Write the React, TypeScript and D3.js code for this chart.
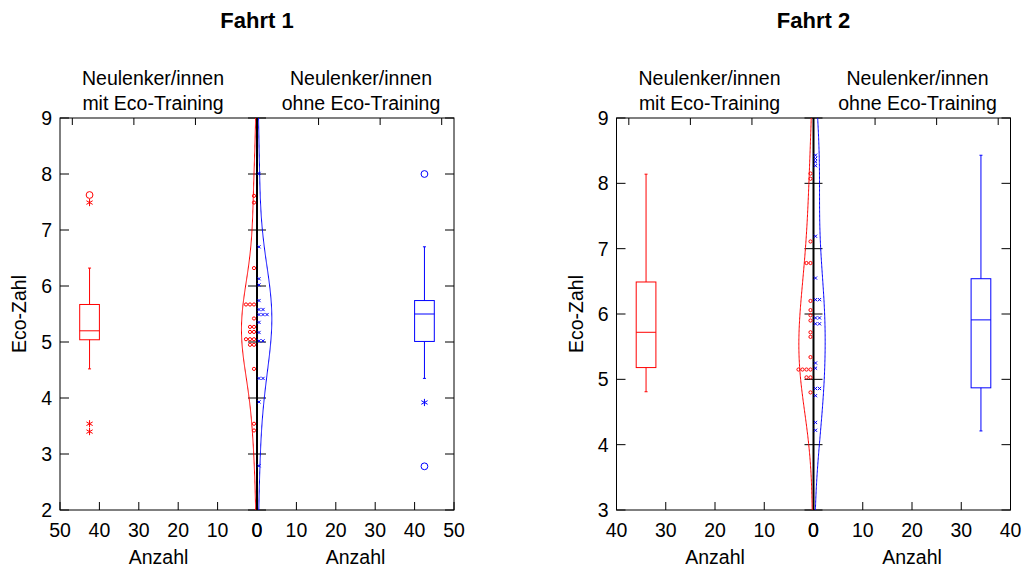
import React from "react";
import * as d3 from "d3";

// chart values
const fahrten = ["Fahrt 1", "Fahrt 2"];
const groupTitle = ["Neulenker/innen", "Neulenker/innen"];
const groupSub = ["mit Eco-Training", "ohne Eco-Training"];
const yDomains = [[2, 9], [3, 9]];
const yTicks = [[2, 3, 4, 5, 6, 7, 8, 9], [3, 4, 5, 6, 7, 8, 9]];
const countMax = [50, 40];
const countTicks = [[0, 10, 20, 30, 40, 50], [0, 10, 20, 30, 40]];
const boxAxisTicks = [0, 1, 2, 3];

// single Eco-Zahl values per driver (dot plot + violin)
const mitF1 = [7.61, 7.49, 6.32, 5.67, 5.67, 5.67, 5.42, 5.27, 5.27, 5.18, 5.18, 5.05, 5.05, 5.05, 4.95, 4.95, 4.52, 3.54, 3.42];
const ohneF1 = [8.01, 6.7, 6.13, 6.02, 5.74, 5.58, 5.58, 5.49, 5.49, 5.49, 5.35, 5.17, 5.02, 5.02, 4.35, 4.35, 3.93, 2.79];
const mitF2 = [8.15, 8.07, 7.11, 6.78, 6.78, 6.2, 6.06, 5.98, 5.9, 5.72, 5.65, 5.34, 5.15, 5.15, 5.15, 5.15, 5.03, 5.03, 4.8];
const ohneF2 = [8.43, 8.38, 8.33, 8.27, 7.19, 6.55, 6.22, 6.22, 5.94, 5.94, 5.85, 5.85, 5.25, 5.17, 4.86, 4.86, 4.75, 4.34, 4.22];

// box stats: [lower whisker, q1, median, q3, upper whisker]
const mitF1Box = [4.52, 5.04, 5.2, 5.67, 6.32];
const ohneF1Box = [4.35, 5.01, 5.5, 5.74, 6.7];
const mitF2Box = [4.81, 5.18, 5.72, 6.49, 8.14];
const ohneF2Box = [4.21, 4.87, 5.91, 6.54, 8.43];

const mitF1Circles = [7.625];
const mitF1Stars = [7.49, 3.54, 3.4];
const ohneF1Circles = [8.0, 2.78];
const ohneF1Stars = [3.92];

const boxPos = [42.5, 34];
const boxWidth = [5, 4];

const W = 1022;
const H = 570;
const panelX0 = [60, 616.5];
const panelW = 394;
const top = 118;
const bottom = 510;
const font = "'Liberation Sans', Arial, Helvetica, sans-serif";

const RED = "#ff0000";
const BLUE = "#0000ff";
const AXIS = "#000";

const bandwidth = 0.8;
const kde = (vals: number[]) => (v: number) =>
  d3.mean(vals, (d) => Math.exp(-0.5 * ((v - d) / bandwidth) ** 2) / (bandwidth * Math.sqrt(2 * Math.PI))) as number;

// pixels of violin half-width per unit density
const violinW = d3.scaleLinear().domain([0, 0.345]).range([0, 14]);

function stackIndex(vals: number[]) {
  const seen = new Map<number, number>();
  return vals.map((v) => {
    const k = seen.get(v) ?? 0;
    seen.set(v, k + 1);
    return k;
  });
}

const Star = ({ x, y, color }: { x: number; y: number; color: string }) => {
  const r = 3.6;
  return (
    <g stroke={color} strokeWidth={1}>
      <line x1={x} y1={y - r} x2={x} y2={y + r} />
      <line x1={x - r * 0.87} y1={y - r * 0.5} x2={x + r * 0.87} y2={y + r * 0.5} />
      <line x1={x - r * 0.87} y1={y + r * 0.5} x2={x + r * 0.87} y2={y - r * 0.5} />
    </g>
  );
};

function Panel({ i }: { i: number }) {
  const x0 = panelX0[i];
  const xc = x0 + panelW / 2;
  const x1 = x0 + panelW;
  const y = d3.scaleLinear().domain(yDomains[i]).range([bottom, top]);
  const left = d3.scaleLinear().domain([0, countMax[i]]).range([xc, x0]);
  const right = d3.scaleLinear().domain([0, countMax[i]]).range([xc, x1]);
  const boxLeft = d3.scaleLinear().domain([-0.2, 3]).range([x0, xc]);
  const boxRight = d3.scaleLinear().domain([-0.2, 3]).range([x1, xc]);

  const sides = [
    {
      dir: -1,
      color: RED,
      scale: left,
      dots: i === 0 ? mitF1 : mitF2,
      box: i === 0 ? mitF1Box : mitF2Box,
      circles: i === 0 ? mitF1Circles : [],
      stars: i === 0 ? mitF1Stars : [],
      stack: d3.scaleLinear().domain([0, 1]).range([3, 7]),
      marker: "o",
      labelX: xc - 104,
    },
    {
      dir: 1,
      color: BLUE,
      scale: right,
      dots: i === 0 ? ohneF1 : ohneF2,
      box: i === 0 ? ohneF1Box : ohneF2Box,
      circles: i === 0 ? ohneF1Circles : [],
      stars: i === 0 ? ohneF1Stars : [],
      stack: d3.scaleLinear().domain([0, 1]).range([2, 6]),
      marker: "x",
      labelX: xc + 104,
    },
  ];

  const grid = d3.range(yDomains[i][0], yDomains[i][1] + 0.001, 0.02);
  const line = d3.line<[number, number]>();

  return (
    <g>
      <text x={xc} y={28} textAnchor="middle" fontWeight="bold" fontSize={22} fontFamily={font}>
        {fahrten[i]}
      </text>
      {sides.map((s, k) => (
        <text key={k} x={s.labelX} textAnchor="middle" fontSize={19.5} fontFamily={font}>
          <tspan x={s.labelX} y={85}>{groupTitle[k]}</tspan>
          <tspan x={s.labelX} y={110}>{groupSub[k]}</tspan>
        </text>
      ))}

      {/* frame */}
      <rect x={x0} y={top} width={panelW} height={bottom - top} fill="none" stroke={AXIS} strokeWidth={1} />
      <line x1={xc} x2={xc} y1={top} y2={bottom} stroke={AXIS} strokeWidth={2} />

      {/* y ticks: left edge, centre, right edge */}
      {yTicks[i].map((t) => (
        <g key={t} stroke={AXIS} strokeWidth={1}>
          <line x1={x0} x2={x0 + 9} y1={y(t)} y2={y(t)} />
          <line x1={xc - 9} x2={xc + 9} y1={y(t)} y2={y(t)} />
          <line x1={x1 - 9} x2={x1} y1={y(t)} y2={y(t)} />
        </g>
      ))}
      {yTicks[i].map((t) => (
        <text key={"l" + t} x={x0 - 8} y={y(t) + 7} textAnchor="end" fontSize={19.5} fontFamily={font}>
          {t}
        </text>
      ))}

      {/* count axes at the bottom */}
      {sides.map((s, k) =>
        countTicks[i].map((t) => (
          <g key={k + "-" + t}>
            <line x1={s.scale(t)} x2={s.scale(t)} y1={bottom} y2={bottom - 8} stroke={AXIS} />
            <text x={s.scale(t)} y={537} textAnchor="middle" fontSize={19.5} fontFamily={font}>
              {t}
            </text>
          </g>
        ))
      )}
      {sides.map((s, k) => (
        <text key={"ax" + k} x={s.scale(countMax[i] / 2)} y={564} textAnchor="middle" fontSize={19.5} fontFamily={font}>
          Anzahl
        </text>
      ))}

      {/* box axis ticks on top */}
      {[boxLeft, boxRight].map((sc, k) =>
        boxAxisTicks.map((t) => (
          <line key={k + "t" + t} x1={sc(t)} x2={sc(t)} y1={top} y2={top + 7} stroke={AXIS} />
        ))
      )}

      <text
        transform={`translate(${x0 - 34},${(top + bottom) / 2}) rotate(-90)`}
        textAnchor="middle"
        fontSize={19.5}
        fontFamily={font}
      >
        Eco-Zahl
      </text>

      {sides.map((s, k) => {
        const dens = kde(s.dots);
        const pts = grid.map((v) => [xc + s.dir * (1 + violinW(dens(v))), y(v)] as [number, number]);
        const idx = stackIndex(s.dots);
        const bx = s.scale(boxPos[i]);
        const hw = Math.abs(s.scale(boxWidth[i] / 2) - s.scale(0));
        const [lw, q1, med, q3, uw] = s.box;
        return (
          <g key={"s" + k}>
            <path d={line(pts) as string} fill="none" stroke={s.color} strokeWidth={1} />
            {s.dots.map((v, j) => {
              const px = xc + s.dir * s.stack(idx[j]);
              const py = y(v);
              return s.marker === "o" ? (
                <circle key={j} cx={px} cy={py} r={1.6} fill="none" stroke={s.color} strokeWidth={1} />
              ) : (
                <g key={j} stroke={s.color} strokeWidth={1}>
                  <line x1={px - 1.6} y1={py - 1.6} x2={px + 1.6} y2={py + 1.6} />
                  <line x1={px - 1.6} y1={py + 1.6} x2={px + 1.6} y2={py - 1.6} />
                </g>
              );
            })}
            {/* box plot */}
            <g stroke={s.color} strokeWidth={1} fill="none">
              <rect x={bx - hw} y={y(q3)} width={2 * hw} height={y(q1) - y(q3)} />
              <line x1={bx - hw} x2={bx + hw} y1={y(med)} y2={y(med)} />
              <line x1={bx} x2={bx} y1={y(q3)} y2={y(uw)} />
              <line x1={bx} x2={bx} y1={y(q1)} y2={y(lw)} />
              <line x1={bx - 1.5} x2={bx + 1.5} y1={y(uw)} y2={y(uw)} />
              <line x1={bx - 1.5} x2={bx + 1.5} y1={y(lw)} y2={y(lw)} />
              {s.circles.map((v, j) => (
                <circle key={"c" + j} cx={bx} cy={y(v)} r={3.4} />
              ))}
            </g>
            {s.stars.map((v, j) => (
              <Star key={"st" + j} x={bx} y={y(v)} color={s.color} />
            ))}
          </g>
        );
      })}
    </g>
  );
}

export default function App() {
  return (
    <svg
      width={W}
      height={H}
      viewBox={`0 0 ${W} ${H}`}
      style={{ position: "absolute", left: 0, top: 0, background: "#fff" }}
    >
      <rect width={W} height={H} fill="#fff" />
      {fahrten.map((_, i) => (
        <Panel key={i} i={i} />
      ))}
    </svg>
  );
}
